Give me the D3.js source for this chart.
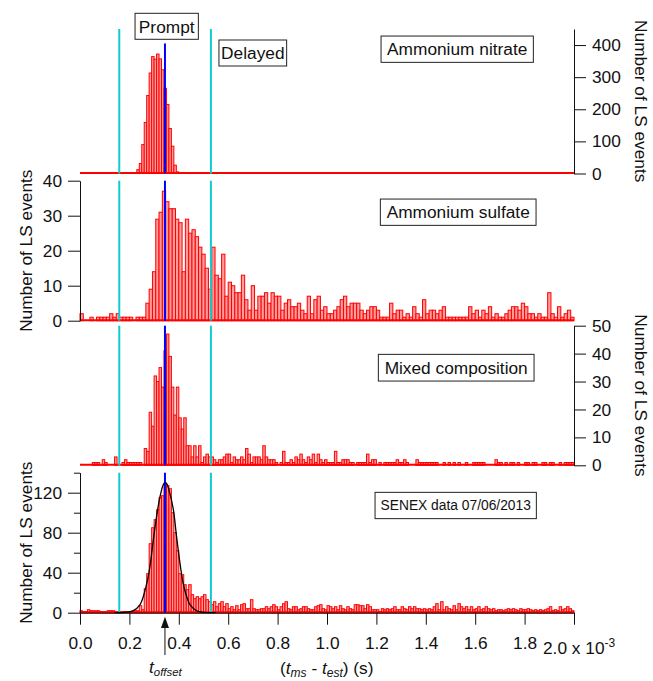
<!DOCTYPE html>
<html>
<head>
<meta charset="utf-8">
<script src="https://cdn.jsdelivr.net/npm/d3@7"></script>
<style>
body { margin: 0; background: #fff; }
text { font-family: "Liberation Sans", Arial, sans-serif; }
</style>
</head>
<body>
<div id="chart"></div>
<script>
//histogram counts, one value per bin, bins start at t = 0
const nitrateFirstBin = 23;
const nitrateCounts = [12, 31, 90, 159, 243, 313, 364, 356, 372, 357, 323, 265, 215, 140, 85, 26, 5];

const sulfateCounts = [
    2, 0, 0, 1, 0, 1, 1, 1, 1, 2, 1, 2, 1, 1, 1, 1, 0, 1, 1, 1,
    5, 9, 14, 29, 31, 37, 34, 32, 32, 29, 28, 14, 29, 25, 26, 24, 21, 19, 15, 9, 21, 13, 12,
    19, 7, 11, 10, 8, 8, 13, 6, 3, 10, 3, 7, 7, 8, 5, 8, 7, 7, 3, 5, 6, 4, 4, 5, 3, 2, 7, 2, 6, 7, 3, 4, 2, 2,
    3, 4, 6, 7, 4, 5, 5, 5, 3, 2, 3, 4, 4, 3, 1, 1, 1, 5, 2, 3, 3,
    1, 2, 1, 4, 2, 1, 6, 2, 3, 3, 2, 3, 4, 1, 1, 1, 1, 1, 1, 1, 4, 2, 3, 1, 3, 2, 4, 1, 2, 1,
    1, 2, 3, 4, 4, 3, 5, 4, 2, 2, 1, 2, 1, 1, 8, 2, 1, 4, 1, 2, 3, 1];

const mixedCounts = [
    0, 0, 0, 0, 0, 1, 1, 1, 0, 2, 1, 0, 0, 0, 3, 0, 0, 1, 2, 1, 1, 1, 1, 1, 1, 0,
    6, 5, 19, 14, 32, 30, 35, 28, 41, 47,
    39, 28, 18, 28, 17, 13, 17, 7, 7, 3, 7, 3, 7, 1, 3, 4, 3,
    3, 2, 1, 2,
    2, 3, 4, 4, 1, 3, 2, 2, 3, 2, 6, 4, 1, 3, 3, 3, 2, 7, 3, 2, 2, 2, 1, 0, 1, 5, 1, 1, 2, 1,
    3, 2, 4, 2, 1, 3, 2, 4, 1, 4, 2, 1, 2, 1, 1, 1, 5, 1, 1, 2, 2, 2, 1, 1, 0, 1, 1, 1, 1, 4,
    1, 2, 2, 0, 1, 0, 1, 1, 1, 1, 1, 2, 1,
    1, 2, 1, 0, 0, 0, 2, 1, 1, 1, 1, 1, 1, 1, 1, 0,
    0, 1, 0, 1, 0, 1, 0, 1, 0, 0, 1, 0, 0, 1, 1, 1, 1, 1, 0, 0, 0, 0, 2, 1, 1, 0, 1, 0, 1, 1,
    0, 1, 0, 0, 1, 1, 0, 1, 1, 0, 0, 1, 1, 0, 1, 1, 0, 0, 1, 0, 1, 1, 1, 1];

const senexCounts = [
    2, 1, 1, 3, 2, 2, 2, 2, 1, 1, 1, 2, 2, 2, 1, 1, 1, 1, 1, 1, 1, 1, 2, 2, 7, 3,
    24, 39, 69, 85, 93, 103, 115, 117, 129, 127, 124, 100, 80, 62, 39, 38, 28, 23, 28, 18,
    14, 16, 14, 16, 18, 13, 11, 8, 11, 6, 9,
    11, 6, 9, 4, 6, 3, 7, 3, 8, 9, 4, 4, 13, 4, 3, 3, 4, 4, 6, 4, 6, 8, 6, 3, 6, 9, 11, 4, 3, 6,
    6, 3, 4, 6, 6, 4, 3, 3, 6, 7, 8, 4, 3, 7, 6, 4, 6, 3, 7, 4, 3, 6, 4, 3, 8, 8, 7, 7, 4, 8,
    6, 3, 3, 3, 1, 4, 3, 4, 3, 4, 6, 3, 3,
    6, 4, 3, 6, 4, 6, 4, 4, 3, 4, 3, 4, 3, 6, 9, 3, 11, 3, 6, 4, 3, 7, 3, 9, 6, 4, 6, 3, 6, 3,
    4, 6, 3, 4, 6, 4, 3, 4, 2, 3, 3, 2, 3, 4, 3, 4, 3, 2, 4, 3, 3, 4, 3, 2, 3, 2, 3, 2, 3, 4,
    6, 2, 3, 2, 6, 3, 4, 6, 4, 2];

//gaussian fit on SENEX data (ms, counts)
const fitTimes = [0.14, 0.16, 0.19, 0.216, 0.243, 0.27, 0.283, 0.297, 0.31, 0.324, 0.337, 0.344, 0.351, 0.364, 0.378, 0.391, 0.405, 0.418, 0.432, 0.445, 0.472, 0.5, 0.53, 0.55];
const fitCounts = [0, 0.1, 0.5, 2, 8, 29, 46, 73, 96, 116, 128, 130, 129, 119, 103, 76, 49, 29, 16, 8, 2, 0.3, 0, 0];

//window markers (s)
const promptStart = 0.159e-3;
const tOffset = 0.344e-3;
const delayedStart = 0.530e-3;

const xTicks = [0, 0.2e-3, 0.4e-3, 0.6e-3, 0.8e-3, 1.0e-3, 1.2e-3, 1.4e-3, 1.6e-3, 1.8e-3, 2.0e-3];
const panelLabels = ["Ammonium nitrate", "Ammonium sulfate", "Mixed composition", "SENEX data 07/06/2013"];
const yMaxes = [450, 40, 50, 140];
const yTicks = [[0, 100, 200, 300, 400], [0, 10, 20, 30, 40], [0, 10, 20, 30, 40, 50], [0, 40, 80, 120]];
const yMinorTicks = [[], [], [], [20, 60, 100, 140]];
const blueTops = [405, 40, 50, 140];

const fontSize = 17.3;
const W = 653, H = 681;

var svg = d3.select("#chart").append("svg")
    .attr("width", W)
    .attr("height", H)
    .style("display", "block");

var x = d3.scaleLinear().domain([0, 2.0e-3]).range([80, 574]);

var panels = [
    {counts: nitrateCounts, firstBin: nitrateFirstBin, bins: 200, top: 29, bottom: 173.5, side: "right",
     box: {cx: 457.2, cy: 49.2, w: 152.3, h: 26.3, fs: fontSize}},
    {counts: sulfateCounts, firstBin: 0, bins: 150, top: 180.7, bottom: 320.7, side: "left",
     box: {cx: 458.2, cy: 212.2, w: 155.7, h: 26.3, fs: fontSize}},
    {counts: mixedCounts, firstBin: 0, bins: 200, top: 325.7, bottom: 465.3, side: "right",
     box: {cx: 456.2, cy: 367.7, w: 155.7, h: 26.7, fs: fontSize}},
    {counts: senexCounts, firstBin: 0, bins: 200, top: 472.7, bottom: 612.7, side: "left",
     box: {cx: 455.7, cy: 505.5, w: 161.3, h: 26.3, fs: 13.8}}
];

function addBox(cx, cy, w, h, label, fs) {
    svg.append("rect")
        .attr("x", cx - w / 2)
        .attr("y", cy - h / 2)
        .attr("width", w)
        .attr("height", h)
        .attr("fill", "white")
        .attr("stroke", "#222")
        .attr("stroke-width", 1);
    svg.append("text")
        .attr("x", cx)
        .attr("y", cy + fs * 0.36)
        .attr("text-anchor", "middle")
        .attr("font-size", fs)
        .attr("fill", "#111")
        .text(label);
}

panels.forEach(function (p, k) {
    var y = d3.scaleLinear().domain([0, yMaxes[k]]).range([p.bottom, p.top]);
    var bw = 2.0e-3 / p.bins;
    var bars = p.counts.map(function (c, i) {
        return {t: (p.firstBin + i) * bw, c: c};
    });

    //histogram bars
    svg.append("g").selectAll("rect")
        .data(bars).enter()
        .append("rect")
        .attr("x", d => x(d.t))
        .attr("y", d => y(d.c))
        .attr("width", x(bw) - x(0))
        .attr("height", d => y(0) - y(d.c))
        .attr("fill", "#ff9c9c")
        .attr("stroke", "#ff0000")
        .attr("stroke-width", 1);

    svg.append("line")
        .attr("x1", x(0)).attr("x2", x(2.0e-3))
        .attr("y1", y(0) - 0.5).attr("y2", y(0) - 0.5)
        .attr("stroke", "#ff0000")
        .attr("stroke-width", 2);

    //prompt / delayed windows and offset
    [promptStart, delayedStart].forEach(function (t) {
        svg.append("line")
            .attr("x1", x(t)).attr("x2", x(t))
            .attr("y1", y(0)).attr("y2", y(yMaxes[k]))
            .attr("stroke", "#10cccc")
            .attr("stroke-width", 2);
    });
    svg.append("line")
        .attr("x1", x(tOffset)).attr("x2", x(tOffset))
        .attr("y1", y(0)).attr("y2", y(blueTops[k]))
        .attr("stroke", "#0000ff")
        .attr("stroke-width", 2);

    if (k == 3) {
        var line = d3.line()
            .x((d, i) => x(fitTimes[i] * 1e-3))
            .y(d => y(d))
            .curve(d3.curveCatmullRom);
        svg.append("path")
            .attr("d", line(fitCounts))
            .attr("fill", "none")
            .attr("stroke", "black")
            .attr("stroke-width", 1.3);
    }

    //y axis
    var axis = p.side == "right" ? d3.axisRight(y) : d3.axisLeft(y);
    axis.tickValues(yTicks[k]).tickSize(12).tickSizeOuter(0).tickPadding(6).tickFormat(d3.format("d"));
    var g = svg.append("g")
        .attr("transform", "translate(" + (p.side == "right" ? x(2.0e-3) : x(0)) + ",0)")
        .call(axis);
    g.selectAll("text").attr("font-size", fontSize).attr("font-family", "Liberation Sans, Arial, sans-serif").attr("fill", "#111");
    g.selectAll("line,path").attr("stroke", "#111");
    if (yMinorTicks[k].length) {
        var minor = (p.side == "right" ? d3.axisRight(y) : d3.axisLeft(y))
            .tickValues(yMinorTicks[k]).tickSize(6).tickSizeOuter(0).tickFormat("");
        svg.append("g")
            .attr("transform", "translate(" + (p.side == "right" ? x(2.0e-3) : x(0)) + ",0)")
            .call(minor)
            .selectAll("line,path").attr("stroke", "#111");
    }

    var cy = (p.top + p.bottom) / 2;
    if (p.side == "right") {
        svg.append("text")
            .attr("transform", "translate(635," + cy + ") rotate(90)")
            .attr("text-anchor", "middle")
            .attr("font-size", fontSize)
            .attr("fill", "#111")
            .text("Number of LS events");
    } else {
        svg.append("text")
            .attr("transform", "translate(32," + cy + ") rotate(-90)")
            .attr("text-anchor", "middle")
            .attr("font-size", fontSize)
            .attr("fill", "#111")
            .text("Number of LS events");
    }

    addBox(p.box.cx, p.box.cy, p.box.w, p.box.h, panelLabels[k], p.box.fs);
});

addBox(166.7, 26.3, 63.3, 26, "Prompt", fontSize);
addBox(252.8, 53, 67.7, 26, "Delayed", fontSize);

//shared time axis
var xAxis = d3.axisBottom(x)
    .tickValues(xTicks)
    .tickSize(12)
    .tickSizeOuter(0)
    .tickPadding(12)
    .tickFormat(d => d < 1.9e-3 ? (d * 1e3).toFixed(1) : "");
var gx = svg.append("g")
    .attr("transform", "translate(0,612.7)")
    .call(xAxis);
gx.selectAll("text").attr("font-size", fontSize).attr("font-family", "Liberation Sans, Arial, sans-serif").attr("fill", "#111");
gx.selectAll("line,path").attr("stroke", "#111");

var sci = svg.append("text")
    .attr("x", 543)
    .attr("y", 654)
    .attr("font-size", fontSize)
    .attr("fill", "#111");
sci.append("tspan").text("2.0 x 10");
sci.append("tspan").attr("font-size", 12).attr("dy", -7).text("-3");

var xt = svg.append("text")
    .attr("x", 280)
    .attr("y", 674)
    .attr("font-size", fontSize)
    .attr("fill", "#111");
xt.append("tspan").text("(");
xt.append("tspan").attr("font-style", "italic").text("t");
xt.append("tspan").attr("font-style", "italic").attr("font-size", 12).attr("dy", 3).text("ms");
xt.append("tspan").attr("dy", -3).text(" - ");
xt.append("tspan").attr("font-style", "italic").text("t");
xt.append("tspan").attr("font-style", "italic").attr("font-size", 12).attr("dy", 3).text("est");
xt.append("tspan").attr("dy", -3).text(") (s)");

//t offset arrow
var ax = x(tOffset);
svg.append("line")
    .attr("x1", ax).attr("x2", ax)
    .attr("y1", 627).attr("y2", 655)
    .attr("stroke", "#111")
    .attr("stroke-width", 1);
svg.append("path")
    .attr("d", "M" + ax + ",616.7L" + (ax - 4) + ",628L" + (ax + 4) + ",628Z")
    .attr("fill", "#111");
var to = svg.append("text")
    .attr("x", 149)
    .attr("y", 673)
    .attr("font-size", fontSize)
    .attr("font-style", "italic")
    .attr("fill", "#111");
to.append("tspan").text("t");
to.append("tspan").attr("font-size", 11.4).attr("dy", 3).text("offset");
</script>
</body>
</html>
